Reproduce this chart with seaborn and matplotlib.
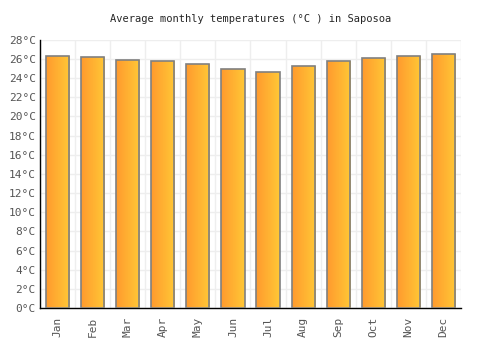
import numpy as np
import pandas as pd
import matplotlib
matplotlib.use('Agg')
import matplotlib.pyplot as plt
from matplotlib.colors import LinearSegmentedColormap
import seaborn as sns

months = ['Jan', 'Feb', 'Mar', 'Apr', 'May', 'Jun', 'Jul', 'Aug', 'Sep', 'Oct', 'Nov', 'Dec']
temps = [26.3, 26.2, 25.9, 25.8, 25.5, 25.0, 24.6, 25.3, 25.8, 26.1, 26.3, 26.5]
yticks = list(range(0, 29, 2))

sns.set_style('white')
plt.rcParams['font.family'] = ['DejaVu Sans Mono']

df = pd.DataFrame({'month': months, 'temp': temps})
fig = plt.figure(figsize=(5, 3.5), dpi=100)
ax = fig.add_axes([0.08, 0.12, 0.842, 0.766])

sns.barplot(data=df, x='month', y='temp', ax=ax, width=0.66,
            color='#FFB030', edgecolor='#808080', linewidth=1.2, zorder=3)

cmap = LinearSegmentedColormap.from_list('og', ['#FF9A2E', '#FFC836'])
grad = np.linspace(0, 1, 64).reshape(1, -1)
for p in ax.patches:
    x0, y0 = p.get_x(), p.get_y()
    w, h = p.get_width(), p.get_height()
    im = ax.imshow(grad, cmap=cmap, aspect='auto', extent=[x0, x0 + w, y0, y0 + h],
                   zorder=3.5, interpolation='bilinear')
    im.set_clip_path(p)
    p.set_zorder(4)
    p.set_facecolor('none')

ax.set_xlim(-0.5, 11.5)
ax.set_ylim(0, 28)
ax.set_yticks(yticks)
ax.set_yticklabels([f'{t}°C' for t in yticks])
ax.set_xticks(np.arange(-0.5, 12, 1), minor=True)
ax.grid(True, which='minor', axis='x', color='#eeeeee', linewidth=1, zorder=0)
ax.grid(True, which='major', axis='y', color='#eeeeee', linewidth=1, zorder=0)
ax.tick_params(axis='x', which='both', length=0, labelrotation=90, labelsize=8, colors='#555555', pad=6)
ax.tick_params(axis='y', length=0, labelsize=8, colors='#555555', pad=3)
ax.set_xlabel('')
ax.set_ylabel('')
for s in ['top', 'right']:
    ax.spines[s].set_visible(False)
for s in ['left', 'bottom']:
    ax.spines[s].set_color('black')
    ax.spines[s].set_linewidth(1)
ax.set_title('Average monthly temperatures (°C ) in Saposoa', fontsize=7.5, pad=13)

fig.savefig('out.png', dpi=100)
